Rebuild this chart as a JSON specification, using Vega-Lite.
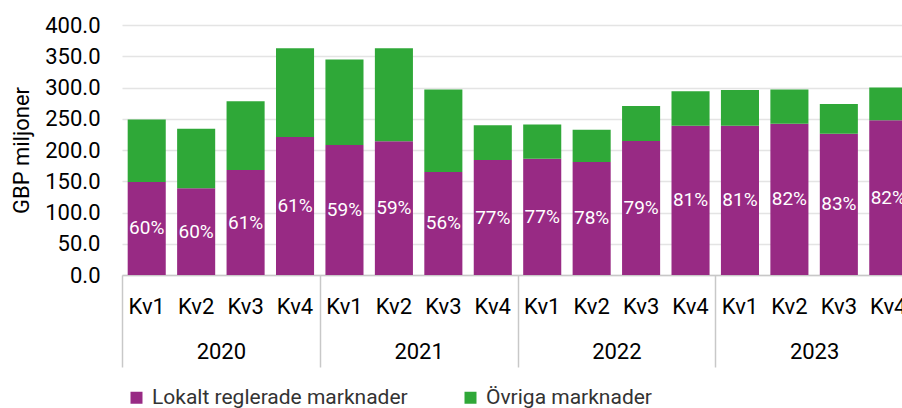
{
  "$schema": "https://vega.github.io/schema/vega-lite/v6.json",
  "width": 791,
  "height": 250,
  "autosize": {"type": "none"},
  "padding": {"left": 122, "top": 25, "right": 0, "bottom": 133},
  "config": {"font": "Roboto", "view": {"stroke": null}, "axis": {"labelColor": "#000000", "titleColor": "#000000"}},
  "datasets": {
    "bars": [
      {"q": "2020 Kv1", "s": "Lokalt reglerade marknader", "v": 149, "pct": "60%"},
      {"q": "2020 Kv1", "s": "Övriga marknader", "v": 100},
      {"q": "2020 Kv2", "s": "Lokalt reglerade marknader", "v": 139, "pct": "60%"},
      {"q": "2020 Kv2", "s": "Övriga marknader", "v": 95},
      {"q": "2020 Kv3", "s": "Lokalt reglerade marknader", "v": 168, "pct": "61%"},
      {"q": "2020 Kv3", "s": "Övriga marknader", "v": 110},
      {"q": "2020 Kv4", "s": "Lokalt reglerade marknader", "v": 221, "pct": "61%"},
      {"q": "2020 Kv4", "s": "Övriga marknader", "v": 142},
      {"q": "2021 Kv1", "s": "Lokalt reglerade marknader", "v": 208, "pct": "59%"},
      {"q": "2021 Kv1", "s": "Övriga marknader", "v": 137},
      {"q": "2021 Kv2", "s": "Lokalt reglerade marknader", "v": 214, "pct": "59%"},
      {"q": "2021 Kv2", "s": "Övriga marknader", "v": 149},
      {"q": "2021 Kv3", "s": "Lokalt reglerade marknader", "v": 165, "pct": "56%"},
      {"q": "2021 Kv3", "s": "Övriga marknader", "v": 132},
      {"q": "2021 Kv4", "s": "Lokalt reglerade marknader", "v": 184, "pct": "77%"},
      {"q": "2021 Kv4", "s": "Övriga marknader", "v": 55.5},
      {"q": "2022 Kv1", "s": "Lokalt reglerade marknader", "v": 186, "pct": "77%"},
      {"q": "2022 Kv1", "s": "Övriga marknader", "v": 55},
      {"q": "2022 Kv2", "s": "Lokalt reglerade marknader", "v": 181, "pct": "78%"},
      {"q": "2022 Kv2", "s": "Övriga marknader", "v": 51.5},
      {"q": "2022 Kv3", "s": "Lokalt reglerade marknader", "v": 214.5, "pct": "79%"},
      {"q": "2022 Kv3", "s": "Övriga marknader", "v": 56},
      {"q": "2022 Kv4", "s": "Lokalt reglerade marknader", "v": 239, "pct": "81%"},
      {"q": "2022 Kv4", "s": "Övriga marknader", "v": 55},
      {"q": "2023 Kv1", "s": "Lokalt reglerade marknader", "v": 239, "pct": "81%"},
      {"q": "2023 Kv1", "s": "Övriga marknader", "v": 57},
      {"q": "2023 Kv2", "s": "Lokalt reglerade marknader", "v": 242, "pct": "82%"},
      {"q": "2023 Kv2", "s": "Övriga marknader", "v": 55},
      {"q": "2023 Kv3", "s": "Lokalt reglerade marknader", "v": 226, "pct": "83%"},
      {"q": "2023 Kv3", "s": "Övriga marknader", "v": 47.5},
      {"q": "2023 Kv4", "s": "Lokalt reglerade marknader", "v": 247.5, "pct": "82%"},
      {"q": "2023 Kv4", "s": "Övriga marknader", "v": 52.5}
    ],
    "years": [
      {"year": "2020", "pos": 2},
      {"year": "2021", "pos": 6},
      {"year": "2022", "pos": 10},
      {"year": "2023", "pos": 14}
    ]
  },
  "layer": [
    {
      "data": {"name": "bars"},
      "layer": [
        {
          "mark": {"type": "bar"},
          "encoding": {
            "x": {
              "field": "q", "type": "ordinal", "sort": null,
              "scale": {"paddingInner": 0.23, "paddingOuter": 0.115},
              "axis": {
                "title": null, "labelExpr": "slice(datum.value, 5)", "labelAngle": 0,
                "labelFontSize": 22, "labelPadding": 31, "labelBaseline": "middle",
                "ticks": false, "domainColor": "#c8c8c8", "domainWidth": 1.5, "grid": false
              }
            },
            "y": {
              "field": "v", "type": "quantitative", "stack": "zero",
              "scale": {"domain": [0, 400], "nice": false},
              "axis": {
                "title": "GBP miljoner", "titleFontSize": 22, "titleFontWeight": "normal", "titlePadding": 11,
                "values": [0, 50, 100, 150, 200, 250, 300, 350, 400], "format": ".1f",
                "labelFontSize": 22, "labelPadding": 22, "labelOverlap": false, "ticks": false, "domain": false,
                "gridColor": "#e4e4e4", "gridWidth": 1.5
              }
            },
            "color": {
              "field": "s", "type": "nominal",
              "scale": {"domain": ["Lokalt reglerade marknader", "Övriga marknader"], "range": ["#982A84", "#2FA838"]},
              "legend": {
                "title": null, "orient": "none", "legendX": 4, "legendY": 362, "direction": "horizontal",
                "symbolType": "square", "symbolSize": 144, "symbolStrokeWidth": 0,
                "labelFontSize": 21, "labelColor": "#333333", "labelOffset": 5, "columnPadding": 52, "labelLimit": 400
              }
            },
            "order": {"field": "s", "sort": "ascending"}
          }
        },
        {
          "transform": [{"filter": "datum.pct"}, {"calculate": "datum.v / 2", "as": "mid"}],
          "mark": {"type": "text", "color": "#ffffff", "fontSize": 19, "baseline": "middle", "align": "center"},
          "encoding": {
            "x": {"field": "q", "type": "ordinal", "sort": null},
            "y": {
              "field": "mid", "type": "quantitative",
              "axis": {
                "title": "GBP miljoner", "titleFontSize": 22, "titleFontWeight": "normal", "titlePadding": 11,
                "values": [0, 50, 100, 150, 200, 250, 300, 350, 400], "format": ".1f",
                "labelFontSize": 22, "labelPadding": 22, "labelOverlap": false, "ticks": false, "domain": false,
                "gridColor": "#e4e4e4", "gridWidth": 1.5
              }
            },
            "text": {"field": "pct"}
          }
        }
      ]
    },
    {
      "data": {"name": "years"},
      "mark": {"type": "point", "opacity": 0},
      "encoding": {
        "x": {
          "field": "pos", "type": "quantitative",
          "scale": {"domain": [0, 16], "nice": false, "zero": false},
          "axis": {
            "orient": "bottom", "title": null,
            "values": [0, 2, 4, 6, 8, 10, 12, 14, 16],
            "labelExpr": "datum.value % 4 == 2 ? '' + (2020 + floor(datum.value / 4)) : ''",
            "labelFontSize": 22, "labelBaseline": "middle", "labelPadding": -16,
            "labelFlush": false, "labelOverlap": false,
            "tickSize": 92, "tickColor": "#c8c8c8", "tickWidth": 1.5,
            "tickOpacity": {"condition": {"test": "datum.value % 4 == 0", "value": 1}, "value": 0},
            "domain": false, "grid": false
          }
        }
      }
    }
  ],
  "resolve": {"scale": {"x": "independent"}, "axis": {"x": "independent"}}
}
